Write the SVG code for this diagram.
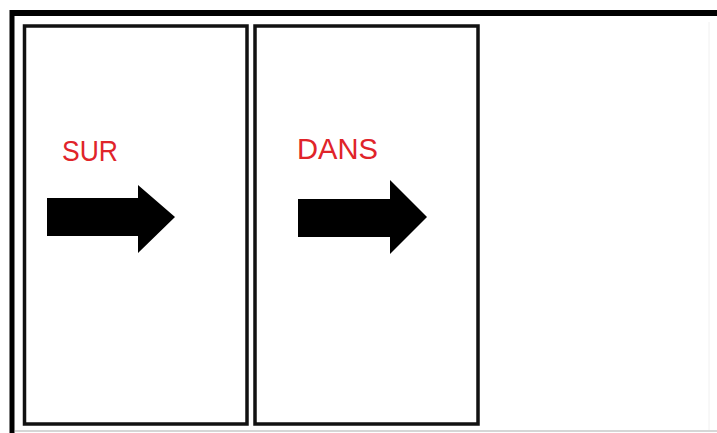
<svg xmlns="http://www.w3.org/2000/svg" width="717" height="433" viewBox="0 0 717 433">
<style>
.panel{fill:none;stroke:#111;stroke-width:3.5}
.arrow{fill:#000}
.lbl{font-family:"Liberation Sans",Arial,sans-serif;font-size:29px;fill:#e0242a}
</style>
<rect width="717" height="433" fill="#fff"/>
<g id="frame">
<line x1="12" y1="13" x2="717" y2="13" stroke="#000" stroke-width="6"/>
<line x1="12" y1="10" x2="12" y2="433" stroke="#000" stroke-width="5"/>
<line x1="15" y1="431" x2="717" y2="431" stroke="#c8c8c8" stroke-width="1.5"/>
<line x1="709" y1="22" x2="709" y2="430" stroke="#f0f0f0" stroke-width="1"/>
</g>
<g id="panel-sur">
<rect class="panel" x="24.5" y="26" width="222.5" height="398"/>
<text class="lbl" x="62" y="161" textLength="56" lengthAdjust="spacingAndGlyphs">SUR</text>
<polygon class="arrow" points="47,198 138,198 138,185 175,217 138,253 138,236 47,236"/>
</g>
<g id="panel-dans">
<rect class="panel" x="255" y="26" width="223" height="398"/>
<text class="lbl" x="297" y="159" textLength="81" lengthAdjust="spacingAndGlyphs">DANS</text>
<polygon class="arrow" points="298,199 390,199 390,180 427,217 390,254 390,237 298,237"/>
</g>
<g id="connectors"></g>
</svg>
